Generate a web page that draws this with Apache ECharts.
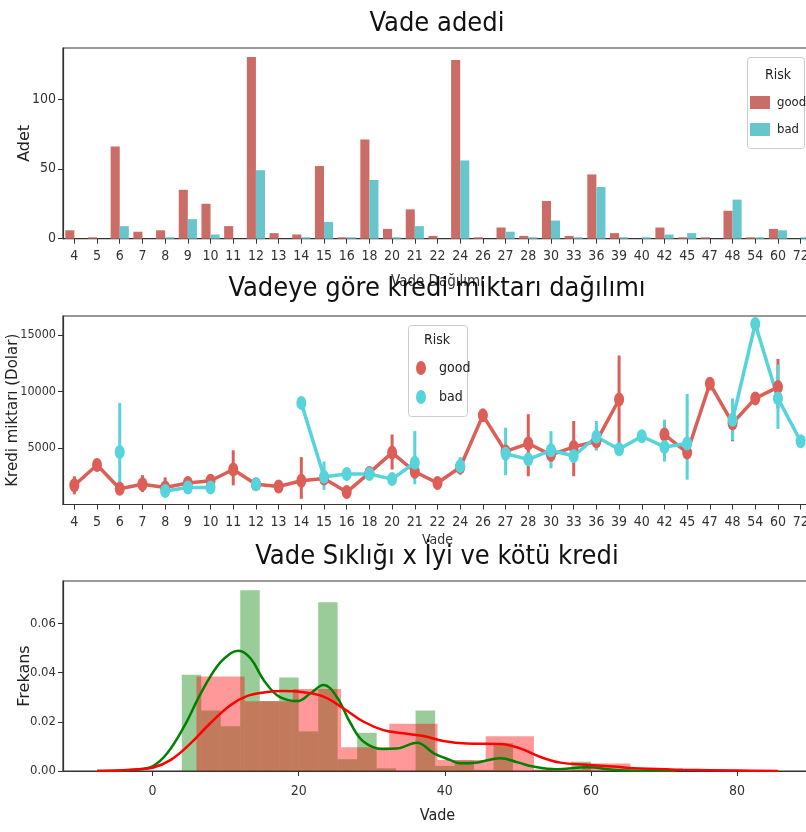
<!DOCTYPE html>
<html>
<head>
<meta charset="utf-8">
<script src="https://cdn.jsdelivr.net/npm/echarts@6.0.0/dist/echarts.min.js"></script>
<style>
html,body{margin:0;padding:0;background:#fff}
#main{width:806px;height:832px}
</style>
</head>
<body>
<div id="main"></div>
<script>
// vade kategorileri
var durations = ['4','5','6','7','8','9','10','11','12','13','14','15','16','18','20','21','22','24','26','27','28','30','33','36','39','40','42','45','47','48','54','60','72'];

// panel 1 - adet
var goodCounts = [6,1,66,5,6,35,25,9,130,4,3,52,1,71,7,21,2,128,1,8,2,27,2,46,4,0,8,1,1,20,1,7,0];
var badCounts  = [0,0,9,0,1,14,3,0,49,0,1,12,1,42,1,9,0,56,0,5,1,13,1,37,1,1,3,4,0,28,1,6,1];

// panel 2 - ortalama kredi miktari ve hata cubuklari
var goodMean = [1700,3500,1400,1800,1500,1900,2100,3100,1800,1600,2100,2300,1100,2800,4600,2900,1900,3300,7900,4700,5400,4400,5100,5600,9300,'-',6200,4600,10700,7200,9400,10400,'-'];
var goodLo   = [900,null,1100,1100,1000,1500,1700,1700,1500,1200,500,1900,null,2400,3100,2300,1500,3000,null,3900,2500,3800,2500,4800,5400,null,5600,null,null,5600,null,8500,null];
var goodHi   = [2500,null,1800,2600,2400,2400,2700,4800,2100,2000,4200,2700,null,3300,6200,3600,2300,3800,null,5500,8000,5100,7400,6400,13200,null,7500,null,null,7800,null,12900,null];
var badMean  = ['-','-',4650,'-',1200,1500,1500,'-',1800,'-',9000,2450,2700,2700,2250,3700,'-',3400,'-',4500,4000,4800,4300,6000,4900,6050,5100,5400,'-',7500,16000,9400,5600];
var badLo    = [null,null,1200,null,null,1200,1300,null,1500,null,null,1300,null,2300,null,1800,null,2600,null,2600,null,3200,null,4800,null,null,3800,2200,null,5700,null,6700,null];
var badHi    = [null,null,9000,null,null,1900,1800,null,2100,null,null,3800,null,3200,null,6500,null,4200,null,6800,null,6500,null,7400,null,null,7500,9800,null,9400,null,12400,null];

// panel 3 - histogram ve kde
var goodBinEdges = [4,6.67,9.33,12,14.67,17.33,20,22.67,25.33,28,30.67,33.33,36,38.67,41.33,44,46.67,49.33,52,54.67,57.33,60];
var goodDensity  = [0.0391,0.0246,0.0182,0.0734,0.0284,0.0380,0.0161,0.0686,0.0048,0.0155,0.0011,0,0.0246,0.0021,0.0043,0.0005,0.0113,0,0.0005,0,0.0038];
var badBinEdges  = [6,12.6,19.2,25.8,32.4,39,45.6,52.2,58.8,65.4,72];
var badDensity   = [0.0384,0.0283,0.0333,0.0096,0.0192,0.0045,0.0141,0.0005,0.0030,0.0005];
var goodKde = [[-7.6,0],[-4,0.0002],[-2,0.0006],[0,0.0019],[2,0.0072],[4.3,0.018],[6.6,0.0315],[8.8,0.0424],[10.7,0.0478],[11.8,0.0489],[13.4,0.0458],[15.2,0.037],[17,0.0309],[18.9,0.0286],[19.8,0.0284],[21.6,0.0315],[23.4,0.0349],[25.2,0.0302],[27.1,0.0194],[28.9,0.0119],[31.6,0.0089],[33.4,0.0091],[36.2,0.0115],[38.5,0.0072],[40.7,0.0045],[42.1,0.0031],[44.5,0.0035],[47.6,0.0052],[50,0.0035],[52.1,0.0018],[55.3,0.0007],[59.4,0.0015],[63.5,0.0004],[67,0.0001],[71.6,0]];
var badKde  = [[-7.6,0],[-4,0.0003],[-2,0.0007],[0,0.0013],[2.5,0.0045],[5.2,0.0112],[7.9,0.0194],[10.7,0.0268],[12.9,0.0304],[15.2,0.0319],[17.9,0.0325],[20.7,0.032],[23.4,0.0302],[26.1,0.0255],[28.9,0.02],[31.6,0.0166],[34.3,0.0153],[37.1,0.0142],[39.8,0.0122],[43,0.0112],[47.6,0.011],[50.3,0.0092],[53,0.0058],[55.8,0.0034],[59.4,0.0025],[63,0.0018],[66.7,0.001],[72.6,0.0005],[80,0.0002],[85.6,0]];

// tick etiketleri
var countTicks = [0,50,100];
var amountTicks = [5000,10000,15000];
var freqTicks = [0,0.02,0.04,0.06];
var vadeTicks = [0,20,40,60,80];

var narrow = '"Liberation Sans Narrow", "DejaVu Sans Condensed", "Liberation Sans", sans-serif';
var ellipse = 'path://M0,7a5,7 0 1,0 10,0a5,7 0 1,0 -10,0z';

var errData = function(lo, hi){
	var out = [];
	lo.forEach(function(v, i){
		if (v !== null) out.push([i, v, hi[i]]);
	});
	return out;
};

var binData = function(edges, dens){
	var out = [];
	dens.forEach(function(d, i){
		out.push([edges[i], edges[i+1], d]);
	});
	return out;
};

var errRender = function(color){
	return function(params, api){
		var lo = api.coord([api.value(0), api.value(1)]);
		var hi = api.coord([api.value(0), api.value(2)]);
		return {
			type: 'line',
			shape: {x1: lo[0], y1: lo[1], x2: hi[0], y2: hi[1]},
			style: {stroke: color, lineWidth: 3}
		};
	};
};

var histRender = function(color){
	return function(params, api){
		var p0 = api.coord([api.value(0), api.value(2)]);
		var p1 = api.coord([api.value(1), 0]);
		return {
			type: 'rect',
			shape: {x: p0[0], y: p0[1], width: p1[0]-p0[0], height: p1[1]-p0[1]},
			style: {fill: color}
		};
	};
};

var axisCommon = function(extra){
	var base = {
		axisLine: {show: true, onZero: false, lineStyle: {color: '#333', width: 1.2}},
		axisTick: {show: true, length: 5, lineStyle: {color: '#333'}},
		axisLabel: {color: '#333', fontFamily: narrow, fontSize: 14},
		splitLine: {show: false},
		nameLocation: 'middle',
		nameMoveOverlap: false
	};
	for (var k in extra) {
		if (typeof extra[k] === 'object' && base[k] && !Array.isArray(extra[k])) {
			base[k] = Object.assign({}, base[k], extra[k]);
		} else {
			base[k] = extra[k];
		}
	}
	return base;
};

var yName = {fontFamily: '"DejaVu Sans", sans-serif', fontSize: 16, color: '#222'};
var xName = {fontFamily: narrow, fontSize: 16, color: '#222'};
var titleStyle = {fontFamily: narrow, fontSize: 27, fontWeight: 'normal', color: '#111'};
var plain = function(v){ return String(v); };

var chart = echarts.init(document.getElementById('main'));
chart.setOption({
	animation: false,
	backgroundColor: '#fff',
	title: [
		{text: 'Vade adedi', left: 437, top: 10, textAlign: 'center', textVerticalAlign: 'top', padding: 0, textStyle: titleStyle},
		{text: 'Vadeye göre kredi miktarı dağılımı', left: 437, top: 275, textAlign: 'center', textVerticalAlign: 'top', padding: 0, textStyle: titleStyle},
		{text: 'Vade Sıklığı x İyi ve kötü kredi', left: 437, top: 543, textAlign: 'center', textVerticalAlign: 'top', padding: 0, textStyle: titleStyle}
	],
	grid: [
		{left: 63, right: -6, top: 48, height: 190.7, show: true, borderColor: '#333', borderWidth: 1.2, outerBoundsMode: 'none'},
		{left: 63, right: -6, top: 316, height: 188.5, show: true, borderColor: '#333', borderWidth: 1.2, outerBoundsMode: 'none'},
		{left: 63, right: -6, top: 581, height: 190, show: true, borderColor: '#333', borderWidth: 1.2, outerBoundsMode: 'none'}
	],
	legend: [
		{
			data: ['good', 'bad'], orient: 'vertical', left: 750, top: 96, padding: 0, z: 20,
			icon: 'rect', itemWidth: 20, itemHeight: 13, itemGap: 14,
			textStyle: {fontFamily: narrow, fontSize: 13, color: '#222', padding: [0, 0, 0, 2]}
		},
		{
			data: [
				{name: 'good', icon: ellipse, itemStyle: {color: '#db5f57'}},
				{name: 'bad', icon: ellipse, itemStyle: {color: '#57d3db'}}
			],
			orient: 'vertical', left: 416, top: 361, padding: 0, z: 20,
			itemWidth: 10, itemHeight: 14, itemGap: 15,
			textStyle: {fontFamily: narrow, fontSize: 14, color: '#222', padding: [0, 0, 0, 8]}
		}
	],
	graphic: [
		{type: 'rect', z: 10, shape: {x: 747.5, y: 57.5, width: 57, height: 91, r: 3}, style: {fill: 'rgba(255,255,255,0.85)', stroke: '#ccc', lineWidth: 1}},
		{type: 'text', z: 11, x: 778, y: 75, style: {text: 'Risk', fill: '#222', font: '14px ' + narrow, align: 'center', verticalAlign: 'middle'}},
		{type: 'rect', z: 10, shape: {x: 408.5, y: 325.5, width: 59, height: 91, r: 3}, style: {fill: 'rgba(255,255,255,0.85)', stroke: '#ccc', lineWidth: 1}},
		{type: 'text', z: 11, x: 437, y: 340, style: {text: 'Risk', fill: '#222', font: '14px ' + narrow, align: 'center', verticalAlign: 'middle'}}
	],
	xAxis: [
		axisCommon({type: 'category', gridIndex: 0, data: durations, name: 'Vade Dağılımı', nameGap: 36, nameTextStyle: {fontFamily: narrow, fontSize: 15, color: '#333'},
			axisTick: {alignWithLabel: true}, axisLabel: {interval: 0, margin: 11}}),
		axisCommon({type: 'category', gridIndex: 1, data: durations, name: 'Vade', nameGap: 29, nameTextStyle: {fontFamily: narrow, fontSize: 14, color: '#333'},
			axisTick: {alignWithLabel: true}, axisLabel: {interval: 0, margin: 11}}),
		axisCommon({type: 'value', gridIndex: 2, min: -12.26, max: 90.26, name: 'Vade', nameGap: 37, nameTextStyle: xName,
			axisTick: {customValues: vadeTicks}, axisLabel: {customValues: vadeTicks, margin: 13, formatter: plain}})
	],
	yAxis: [
		axisCommon({type: 'value', gridIndex: 0, min: 0, max: 136.5, name: 'Adet', nameGap: 30, nameTextStyle: yName,
			axisTick: {customValues: countTicks}, axisLabel: {customValues: countTicks, margin: 7, fontSize: 14, formatter: plain}}),
		axisCommon({type: 'value', gridIndex: 1, min: 0, max: 16700, name: 'Kredi miktarı (Dolar)', nameGap: 42, nameTextStyle: {fontFamily: '"DejaVu Sans", sans-serif', fontSize: 15, color: '#222'},
			axisTick: {customValues: amountTicks}, axisLabel: {customValues: amountTicks, margin: 7, fontSize: 12.5, formatter: plain}}),
		axisCommon({type: 'value', gridIndex: 2, min: 0, max: 0.0772, name: 'Frekans', nameGap: 30, nameTextStyle: yName,
			axisTick: {customValues: freqTicks},
			axisLabel: {customValues: freqTicks, margin: 7, fontSize: 13, formatter: function(v){ return v.toFixed(2); }}})
	],
	series: [
		{name: 'good', type: 'bar', xAxisIndex: 0, yAxisIndex: 0, data: goodCounts, barGap: '0%', barCategoryGap: '20%', itemStyle: {color: '#cb6d67'}},
		{name: 'bad', type: 'bar', xAxisIndex: 0, yAxisIndex: 0, data: badCounts, barGap: '0%', barCategoryGap: '20%', itemStyle: {color: '#67c5cb'}},

		{name: 'good ci', type: 'custom', xAxisIndex: 1, yAxisIndex: 1, data: errData(goodLo, goodHi), renderItem: errRender('#db5f57'), encode: {x: 0, y: [1, 2]}, silent: true},
		{name: 'good', type: 'line', xAxisIndex: 1, yAxisIndex: 1, data: goodMean, symbol: ellipse, symbolSize: [10, 14], showAllSymbol: true,
			itemStyle: {color: '#db5f57'}, lineStyle: {color: '#db5f57', width: 3.5}},
		{name: 'bad ci', type: 'custom', xAxisIndex: 1, yAxisIndex: 1, data: errData(badLo, badHi), renderItem: errRender('#57d3db'), encode: {x: 0, y: [1, 2]}, silent: true},
		{name: 'bad', type: 'line', xAxisIndex: 1, yAxisIndex: 1, data: badMean, symbol: ellipse, symbolSize: [10, 14], showAllSymbol: true,
			itemStyle: {color: '#57d3db'}, lineStyle: {color: '#57d3db', width: 3.5}},

		{name: 'good hist', type: 'custom', xAxisIndex: 2, yAxisIndex: 2, data: binData(goodBinEdges, goodDensity), renderItem: histRender('rgba(0,128,0,0.4)'), encode: {x: [0, 1], y: 2}, silent: true},
		{name: 'good kde', type: 'line', xAxisIndex: 2, yAxisIndex: 2, data: goodKde, smooth: 0.4, showSymbol: false, lineStyle: {color: '#008000', width: 2.5}, itemStyle: {color: '#008000'}},
		{name: 'bad hist', type: 'custom', xAxisIndex: 2, yAxisIndex: 2, data: binData(badBinEdges, badDensity), renderItem: histRender('rgba(255,0,0,0.4)'), encode: {x: [0, 1], y: 2}, silent: true},
		{name: 'bad kde', type: 'line', xAxisIndex: 2, yAxisIndex: 2, data: badKde, smooth: 0.4, showSymbol: false, lineStyle: {color: '#ff0000', width: 2.5}, itemStyle: {color: '#ff0000'}}
	]
});
</script>
</body>
</html>
